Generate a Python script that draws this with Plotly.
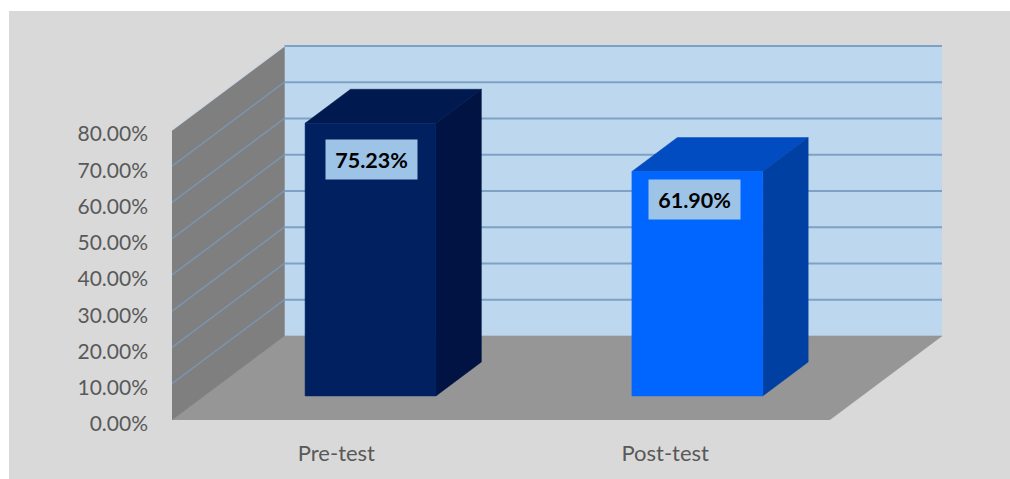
import plotly.graph_objects as go

categories = ["Pre-test", "Post-test"]
values = [75.23, 61.90]
label_texts = ["75.23%", "61.90%"]
y_ticks = [0, 10, 20, 30, 40, 50, 60, 70, 80]
y_tick_labels = ["0.00%", "10.00%", "20.00%", "30.00%", "40.00%", "50.00%", "60.00%", "70.00%", "80.00%"]

front_colors = ["#002060", "#0066ff"]
side_colors = ["#001342", "#0040a2"]
top_colors = ["#001a50", "#004cc0"]

# oblique projection of the 3-D chart: depth d in [0, 1] moves a point right and up
KX = 0.342    # category units per full depth
KY = 23.2     # value units per full depth
Y_TOP = 80
BAR_W = 0.398 # category units
BAR_NUDGE = [0.006, 0.0]
D0, D1 = 0.286, 0.69


def px_(c, d):
    return c + d * KX


def py_(v, d):
    return v + d * KY


def poly(points, color, lw=0.5):
    xs = [px_(c, d) for c, d, v in points] + [px_(*points[0][:2])]
    ys = [py_(v, d) for c, d, v in points] + [py_(points[0][2], points[0][1])]
    return go.Scatter(x=xs, y=ys, mode="lines", fill="toself", fillcolor=color,
                      line=dict(color=color, width=lw), hoverinfo="skip", showlegend=False)


fig = go.Figure()
n = len(categories)

# walls and floor
fig.add_trace(poly([(0, 1, 0), (n, 1, 0), (n, 1, Y_TOP), (0, 1, Y_TOP)], "#bdd7ee"))
fig.add_trace(poly([(0, 0, 0), (n, 0, 0), (n, 1, 0), (0, 1, 0)], "#969696"))
fig.add_trace(poly([(0, 0, 0), (0, 1, 0), (0, 1, Y_TOP), (0, 0, Y_TOP)], "#7f7f7f"))

# gridlines on back wall and side wall
for t in y_ticks[1:]:
    fig.add_trace(go.Scatter(x=[px_(0, 1), px_(n, 1)], y=[py_(t, 1), py_(t, 1)], mode="lines",
                             line=dict(color="#7fa1c4", width=2), hoverinfo="skip", showlegend=False))
    wall_color = "#cfd9e4" if t == Y_TOP else "#7a96b0"
    fig.add_trace(go.Scatter(x=[px_(0, 0), px_(0, 1)], y=[py_(t, 0), py_(t, 1)], mode="lines",
                             line=dict(color=wall_color, width=1.5), hoverinfo="skip", showlegend=False))

# bars
for i, v in enumerate(values):
    c0 = i + 0.5 + BAR_NUDGE[i] - BAR_W / 2
    c1 = i + 0.5 + BAR_NUDGE[i] + BAR_W / 2
    fig.add_trace(poly([(c0, D0, v), (c1, D0, v), (c1, D1, v), (c0, D1, v)], top_colors[i]))
    fig.add_trace(poly([(c1, D0, 0), (c1, D1, 0), (c1, D1, v), (c1, D0, v)], side_colors[i]))
    fig.add_trace(poly([(c0, D0, 0), (c1, D0, 0), (c1, D0, v), (c0, D0, v)], front_colors[i]))

# value labels
label_shift = [(1, -36), (-3, -28)]
for i, v in enumerate(values):
    fig.add_annotation(x=px_(i + 0.5 + BAR_NUDGE[i], D0), y=py_(v, D0), xref="x", yref="y",
                       text=f"<b>{label_texts[i]}</b>", showarrow=False,
                       width=89, height=37, bgcolor="#9dc3e6", align="center", valign="middle",
                       xshift=label_shift[i][0], yshift=label_shift[i][1],
                       font=dict(family="Lato", size=21.5, color="#000000"))

fig.update_layout(
    width=1001, height=468,
    margin=dict(l=163, r=68, t=32, b=59),
    paper_bgcolor="#d9d9d9", plot_bgcolor="rgba(0,0,0,0)",
    showlegend=False,
    font=dict(family="Lato", size=21, color="#595959"),
    xaxis=dict(range=[0, n + KX], tickvals=[i + 0.5 for i in range(n)], ticktext=categories,
               showgrid=False, zeroline=False, showline=False, ticks="", tickfont=dict(size=22),
               ticklabelstandoff=18, fixedrange=True),
    yaxis=dict(range=[0, 104], tickvals=y_ticks, ticktext=y_tick_labels,
               showgrid=False, zeroline=False, showline=False, ticks="",
               ticklabelstandoff=23, ticklabelshift=4, fixedrange=True),
)

fig.write_html("out.html", config={"displayModeBar": False},
               post_script="document.body.style.margin='11px 0 0 9px';document.body.style.overflow='hidden';")
